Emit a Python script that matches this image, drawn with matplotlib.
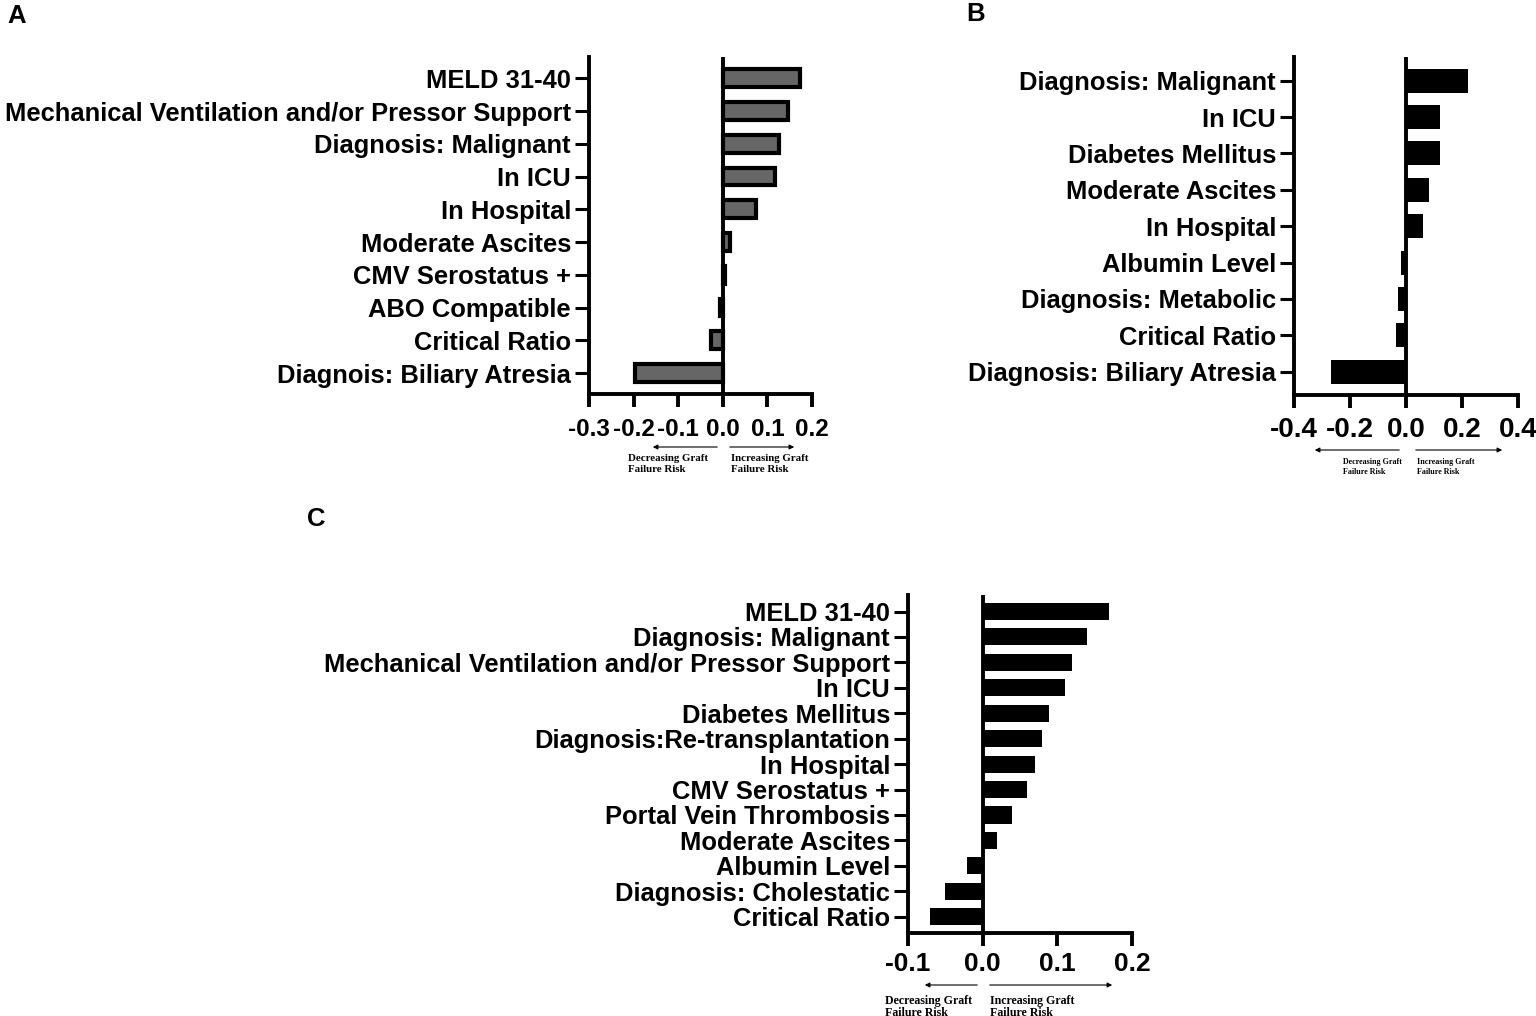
import matplotlib
matplotlib.use('Agg')
import matplotlib.pyplot as plt
import matplotlib.patches as mpatches

plt.rcParams['font.family'] = ['Liberation Sans', 'DejaVu Sans']
plt.rcParams['font.weight'] = 'bold'

W, H = 1536, 1016

# ── data (top to bottom as shown) ────────────────────────────────────────────
a_labels = ["MELD 31-40", "Mechanical Ventilation and/or Pressor Support",
            "Diagnosis: Malignant", "In ICU", "In Hospital", "Moderate Ascites",
            "CMV Serostatus +", "ABO Compatible", "Critical Ratio",
            "Diagnois: Biliary Atresia"]
a_values = [0.174, 0.146, 0.125, 0.117, 0.074, 0.016, 0.004, -0.007, -0.027, -0.197]
a_ticks = [-0.3, -0.2, -0.1, 0.0, 0.1, 0.2]

b_labels = ["Diagnosis: Malignant", "In ICU", "Diabetes Mellitus",
            "Moderate Ascites", "In Hospital", "Albumin Level",
            "Diagnosis: Metabolic", "Critical Ratio", "Diagnosis: Biliary Atresia"]
b_values = [0.221, 0.121, 0.121, 0.082, 0.062, -0.018, -0.027, -0.037, -0.267]
b_ticks = [-0.4, -0.2, 0.0, 0.2, 0.4]

c_labels = ["MELD 31-40", "Diagnosis: Malignant",
            "Mechanical Ventilation and/or Pressor Support", "In ICU",
            "Diabetes Mellitus", "Diagnosis:Re-transplantation", "In Hospital",
            "CMV Serostatus +", "Portal Vein Thrombosis", "Moderate Ascites",
            "Albumin Level", "Diagnosis: Cholestatic", "Critical Ratio"]
c_values = [0.169, 0.140, 0.120, 0.110, 0.089, 0.079, 0.070, 0.059, 0.039,
            0.019, -0.021, -0.051, -0.071]
c_ticks = [-0.1, 0.0, 0.1, 0.2]

fig = plt.figure(figsize=(W / 100, H / 100), dpi=100)


def px_axes(left, top, right, bottom):
    return fig.add_axes([left / W, 1 - bottom / H, (right - left) / W, (bottom - top) / H])


def panel(ax, labels, values, ticks, ylabel_size, xlabel_size, face, edge, lw, height, xpad):
    n = len(labels)
    ypos = list(range(n - 1, -1, -1))
    ax.barh(ypos, values, height=height, color=face, edgecolor=edge,
            linewidth=lw, zorder=2)
    ax.axvline(0, color="black", linewidth=2.8, zorder=3)
    ax.set_xlim(ticks[0], ticks[-1])
    ax.set_ylim(-0.64, n - 1 + 0.65)
    ax.set_xticks(ticks)
    ax.set_xticklabels([f"{t:.1f}" for t in ticks], fontsize=xlabel_size,
                       fontweight="bold")
    ax.set_yticks(ypos)
    ax.set_yticklabels(labels, fontsize=ylabel_size, fontweight="bold")
    for s in ["top", "right"]:
        ax.spines[s].set_visible(False)
    for s in ["left", "bottom"]:
        ax.spines[s].set_linewidth(2.8)
    ax.tick_params(axis="x", length=9, width=2.8, pad=xpad)
    ax.tick_params(axis="y", length=10, width=2.2, pad=3)


def risk_notes(y_arrow, l_from, l_to, r_from, r_to, lx, rx, ty, size, spacing):
    for x0, x1 in [(l_to, l_from), (r_from, r_to)]:
        fig.add_artist(mpatches.FancyArrowPatch(
            (x0 / W, 1 - y_arrow / H), (x1 / W, 1 - y_arrow / H),
            transform=fig.transFigure, arrowstyle='-|>', mutation_scale=7,
            linewidth=0.8, color="black"))
    for x, txt in [(lx, "Decreasing Graft\nFailure Risk"),
                   (rx, "Increasing Graft\nFailure Risk")]:
        fig.text(x / W, 1 - ty / H, txt, fontsize=size, fontweight="bold",
                 family=["Liberation Serif", "DejaVu Serif"], va="top", ha="left",
                 linespacing=spacing)


# Panel A
axA = px_axes(589, 57, 812, 394)
panel(axA, a_labels, a_values, a_ticks, 18.4, 17.5, "#666666", "black", 3.0, 0.54, 8)
risk_notes(447, 650, 720, 727, 797, 628, 731, 454, 7.8, 1.35)

# Panel B
axB = px_axes(1294, 57, 1518, 395)
panel(axB, b_labels, b_values, b_ticks, 18.4, 20, "black", "black", 0, 0.66, 7)
risk_notes(450, 1312, 1402, 1413, 1505, 1343, 1417, 458, 5.8, 1.25)

# Panel C
axC = px_axes(908, 595, 1132, 933)
panel(axC, c_labels, c_values, c_ticks, 18.4, 19, "black", "black", 0, 0.67, 5)
risk_notes(985, 922, 980, 987, 1115, 885, 990, 995, 8.6, 1.0)

for x, y, t in [(7, 4, "A"), (966, 2, "B"), (307, 507, "C")]:
    fig.text(x / W, 1 - y / H, t, fontsize=18.5, fontweight="bold", va="top", ha="left")

fig.savefig("out.png", dpi=100)
